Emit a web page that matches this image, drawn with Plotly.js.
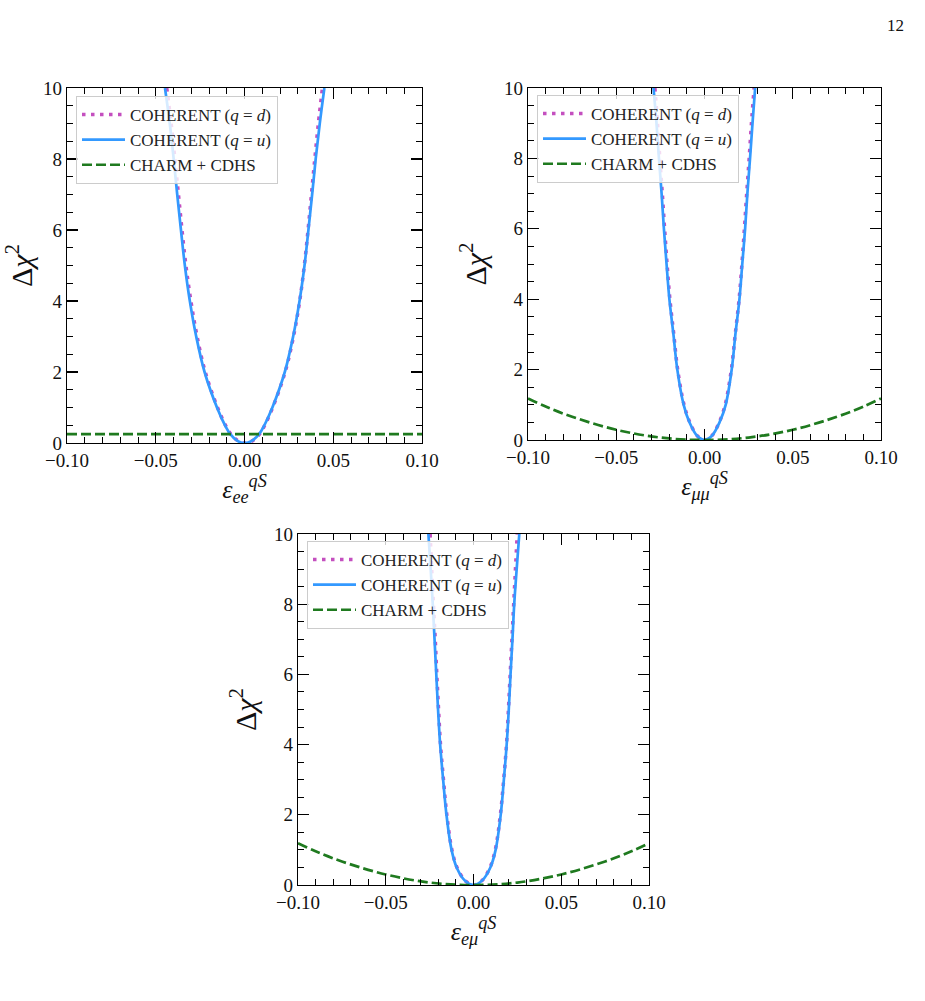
<!DOCTYPE html>
<html>
<head>
<meta charset="utf-8">
<script src="https://cdn.plot.ly/plotly-3.0.1.min.js"></script>
<style>html,body{margin:0;padding:0;background:#fff;}</style>
</head>
<body>
<div id="chart" style="width:925px;height:1001px;"></div>
<script>
// ---- data ----
const xTickVals = [-0.1, -0.05, 0, 0.05, 0.1];
const xTickText = ['\u22120.10', '\u22120.05', '0.00', '0.05', '0.10'];
const yTickVals = [0, 2, 4, 6, 8, 10];

const seriesNames = ['COHERENT (<i>q</i> = <i>d</i>)', 'COHERENT (<i>q</i> = <i>u</i>)', 'CHARM + CDHS'];

// Panel 1: epsilon_ee
const ee_u_x = [-0.0448,-0.0421,-0.0399,-0.0379,-0.0358,-0.0336,-0.0308,-0.0272,-0.0225,-0.0155,-0.0110,-0.0080,-0.0040,0,0.0041,0.0082,0.0112,0.0157,0.0227,0.0274,0.0310,0.0338,0.0360,0.0381,0.0401,0.0424,0.0450];
const ee_u_y = [10,9,8,7,6,5,4,3,2,1,0.5,0.25,0.06,0,0.06,0.25,0.5,1,2,3,4,5,6,7,8,9,10];
const ee_d_x = [-0.0438,-0.0413,-0.0392,-0.0372,-0.0352,-0.0330,-0.0302,-0.0267,-0.0221,-0.0152,-0.0107,-0.0077,-0.0036,0.0004,0.0044,0.0085,0.0114,0.0159,0.0229,0.0276,0.0311,0.0337,0.0358,0.0377,0.0396,0.0416,0.0439];
const ee_d_y = [10,9,8,7,6,5,4,3,2,1,0.5,0.25,0.06,0,0.06,0.25,0.5,1,2,3,4,5,6,7,8,9,10];
const ee_c_x = [-0.1, 0.1];
const ee_c_y = [0.25, 0.25];

// Panel 2: epsilon_mumu
const mm_u_x = [-0.0289,-0.0272,-0.0258,-0.0243,-0.0230,-0.0215,-0.0199,-0.0176,-0.0154,-0.0118,-0.0085,-0.0042,0,0.0042,0.0085,0.0120,0.0154,0.0175,0.0198,0.0214,0.0230,0.0243,0.0258,0.0272,0.0287];
const mm_u_y = [10,9,8,7,6,5,4,3,2,1,0.5,0.12,0,0.12,0.5,1,2,3,4,5,6,7,8,9,10];
const mm_d_x = [-0.0281,-0.0266,-0.0253,-0.0239,-0.0226,-0.0212,-0.0196,-0.0174,-0.0152,-0.0116,-0.0083,-0.0041,0,0.0041,0.0083,0.0117,0.0152,0.0174,0.0196,0.0212,0.0226,0.0239,0.0253,0.0266,0.0281];
const mm_d_y = [10,9,8,7,6,5,4,3,2,1,0.5,0.12,0,0.12,0.5,1,2,3,4,5,6,7,8,9,10];
const mm_c_x = [-0.1,-0.09,-0.075,-0.05,-0.025,0,0.025,0.05,0.075,0.09,0.1];
const mm_c_y = [1.18,0.95,0.66,0.29,0.07,0,0.07,0.29,0.66,0.95,1.18];

// Panel 3: epsilon_emu
const em_u_x = [-0.0257,-0.0244,-0.0232,-0.0222,-0.0212,-0.0202,-0.0190,-0.0173,-0.0154,-0.0125,-0.0096,-0.0048,0,0.0048,0.0096,0.0126,0.0155,0.0173,0.0189,0.0201,0.0211,0.0222,0.0232,0.0246,0.0261];
const em_u_y = [10,9,8,7,6,5,4,3,2,1,0.5,0.12,0,0.12,0.5,1,2,3,4,5,6,7,8,9,10];
const em_d_x = [-0.0247,-0.0238,-0.0228,-0.0218,-0.0209,-0.0199,-0.0188,-0.0171,-0.0152,-0.0123,-0.0094,-0.0047,0,0.0047,0.0094,0.0124,0.0153,0.0172,0.0188,0.0199,0.0209,0.0219,0.0229,0.0239,0.0249];
const em_d_y = [10,9,8,7,6,5,4,3,2,1,0.5,0.12,0,0.12,0.5,1,2,3,4,5,6,7,8,9,10];
const em_c_x = [-0.1,-0.09,-0.075,-0.05,-0.025,0,0.025,0.05,0.075,0.09,0.1];
const em_c_y = [1.19,0.96,0.67,0.30,0.07,0,0.07,0.30,0.67,0.96,1.19];

const xTitles = [
  '<i>\u03b5</i><sub><i>ee</i></sub><sup><i>qS</i></sup>',
  '<i>\u03b5</i><sub><i>\u03bc\u03bc</i></sub><sup><i>qS</i></sup>',
  '<i>\u03b5</i><sub><i>e\u03bc</i></sub><sup><i>qS</i></sup>'
];
const yTitle = '\u0394<i>\u03c7</i><sup>2</sup>';

// ---- styles ----
const FONT = 'Liberation Serif, DejaVu Serif, serif';
const cD = '#c44fbf', cU = '#3399ff', cC = '#1f7a1f';

const panels = [
  {u:[ee_u_x,ee_u_y], d:[ee_d_x,ee_d_y], c:[ee_c_x,ee_c_y]},
  {u:[mm_u_x,mm_u_y], d:[mm_d_x,mm_d_y], c:[mm_c_x,mm_c_y]},
  {u:[em_u_x,em_u_y], d:[em_d_x,em_d_y], c:[em_c_x,em_c_y]}
];

const traces = [];
panels.forEach((p, i) => {
  const ax = i === 0 ? '' : String(i + 1);
  const lg = i === 0 ? 'legend' : 'legend' + (i + 1);
  traces.push({x:p.d[0], y:p.d[1], xaxis:'x'+ax, yaxis:'y'+ax, legend:lg, name:seriesNames[0], mode:'lines',
    line:{color:cD, width:3.5, dash:'3.5px,5.5px', shape:'spline', smoothing:1}});
  traces.push({x:p.u[0], y:p.u[1], xaxis:'x'+ax, yaxis:'y'+ax, legend:lg, name:seriesNames[1], mode:'lines',
    line:{color:cU, width:2.7, shape:'spline', smoothing:1}});
  traces.push({x:p.c[0], y:p.c[1], xaxis:'x'+ax, yaxis:'y'+ax, legend:lg, name:seriesNames[2], mode:'lines',
    line:{color:cC, width:2.7, dash:'10px,4px', shape:'spline', smoothing:1}});
});

const W = 925, H = 1001;
const boxes = [
  {x0:67, x1:422, y0:88, y1:443},
  {x0:528, x1:881, y0:88, y1:440},
  {x0:298, x1:649, y0:534, y1:885}
];
const legendPos = [[76, 96], [537, 95], [307, 541]];

function xAxis(i, b) {
  return {
    domain:[b.x0/W, b.x1/W], range:[-0.1, 0.1], anchor: i===0 ? 'y' : 'y'+(i+1),
    showline:true, linecolor:'#000', linewidth:1.3, mirror:'ticks',
    ticks:'inside', ticklen:11, tickwidth:1.1, tickcolor:'#000',
    tickvals:xTickVals, ticktext:xTickText,
    minor:{dtick:0.01, tick0:0, ticks:'inside', ticklen:6, tickwidth:1, tickcolor:'#000'},
    showgrid:false, zeroline:false,
    tickfont:{family:FONT, size:19, color:'#111'},
    title:{text:xTitles[i], font:{family:FONT, size:26, color:'#111'}, standoff:6}
  };
}
function yAxis(i, b) {
  return {
    domain:[1 - b.y1/H, 1 - b.y0/H], range:[0, 10], anchor: i===0 ? 'x' : 'x'+(i+1),
    showline:true, linecolor:'#000', linewidth:1.3, mirror:'ticks',
    ticks:'inside', ticklen:11, tickwidth:1.1, tickcolor:'#000',
    tickvals:yTickVals,
    minor:{dtick:0.5, tick0:0, ticks:'inside', ticklen:6, tickwidth:1, tickcolor:'#000'},
    showgrid:false, zeroline:false,
    tickfont:{family:FONT, size:19, color:'#111'},
    title:{text:yTitle, font:{family:FONT, size:30, color:'#111'}, standoff:8}
  };
}

const layout = {
  width:W, height:H, margin:{l:0, r:0, t:0, b:0},
  paper_bgcolor:'#fff', plot_bgcolor:'#fff', showlegend:true,
  font:{family:FONT, color:'#111'},
  annotations:[{text:'12', x:906/W, y:1-14/H, xref:'paper', yref:'paper', showarrow:false,
    font:{family:FONT, size:17, color:'#111'}}]
};
boxes.forEach((b, i) => {
  const s = i === 0 ? '' : String(i + 1);
  layout['xaxis'+s] = xAxis(i, b);
  layout['yaxis'+s] = yAxis(i, b);
  const lp = legendPos[i];
  layout[i === 0 ? 'legend' : 'legend'+(i+1)] = {
    x: lp[0]/W, y: 1 - lp[1]/H, xanchor:'left', yanchor:'top', xref:'paper', yref:'paper',
    bgcolor:'rgba(255,255,255,0.8)', bordercolor:'#cccccc', borderwidth:1,
    font:{family:FONT, size:17, color:'#222'}, tracegroupgap:0, itemwidth:43
  };
});

Plotly.newPlot('chart', traces, layout, {staticPlot:true});
</script>
</body>
</html>
